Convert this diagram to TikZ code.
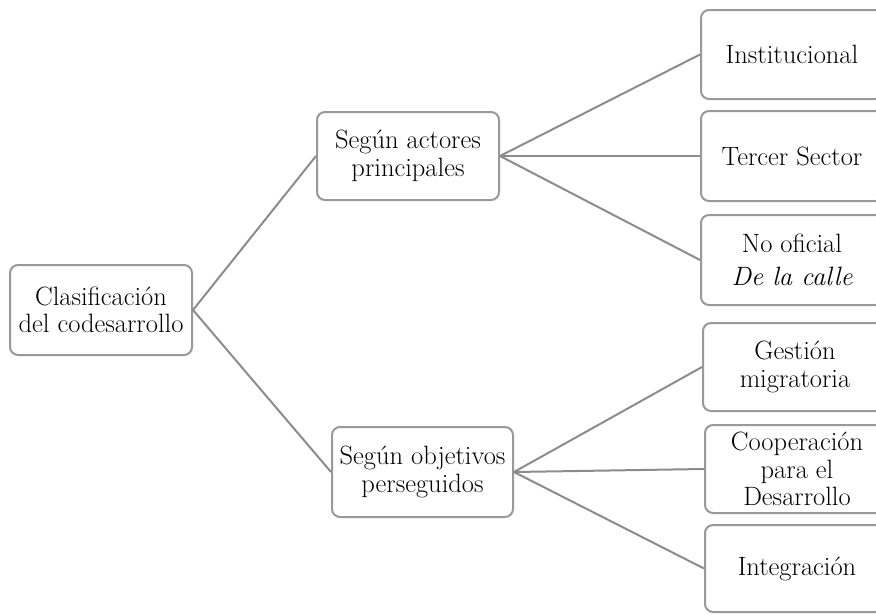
\documentclass[tikz,border=0pt]{standalone}
\usepackage{fontspec}
\begin{document}
\begin{tikzpicture}[x=1pt,y=-1pt,
  box/.style={draw=black!40, line width=2pt, rounded corners=8pt, fill=white, align=center, inner sep=0pt, font=\fontsize{26.5}{27.5}\selectfont, text=black},
  link/.style={draw=black!45, line width=2pt}]
\useasboundingbox (0,0) rectangle (876,614);
\begin{scope}
\clip (0,0) rectangle (876,614);
\node[box, minimum width=182pt, minimum height=90pt] (root) at (101,310) {Clasificación\\del codesarrollo};
\node[box, minimum width=182pt, minimum height=88pt] (act) at (408,156) {Según actores\\principales};
\node[box, minimum width=181pt, minimum height=90pt] (obj) at (422.5,472) {Según objetivos\\perseguidos};
\node[box, minimum width=182pt, minimum height=89pt] (ins) at (792,54.5) {Institucional};
\node[box, minimum width=182pt, minimum height=90pt] (ter) at (792,156) {Tercer Sector};
\node[box, minimum width=182pt, minimum height=90pt] (noof) at (792,260) {No oficial\\[5pt]\itshape De la calle};
\node[box, minimum width=184pt, minimum height=88pt] (ges) at (795,367) {Gestión\\migratoria};
\node[box, minimum width=184pt, minimum height=88pt] (coo) at (797,469) {Cooperación\\para el\\Desarrollo};
\node[box, minimum width=184pt, minimum height=87pt] (int) at (797,568.5) {Integración};
\draw[link] (root.east) -- (act.west);
\draw[link] (root.east) -- (obj.west);
\draw[link] (act.east) -- (ins.west);
\draw[link] (act.east) -- (ter.west);
\draw[link] (act.east) -- (noof.west);
\draw[link] (obj.east) -- (ges.west);
\draw[link] (obj.east) -- (coo.west);
\draw[link] (obj.east) -- (int.west);
\end{scope}
\end{tikzpicture}
\end{document}
